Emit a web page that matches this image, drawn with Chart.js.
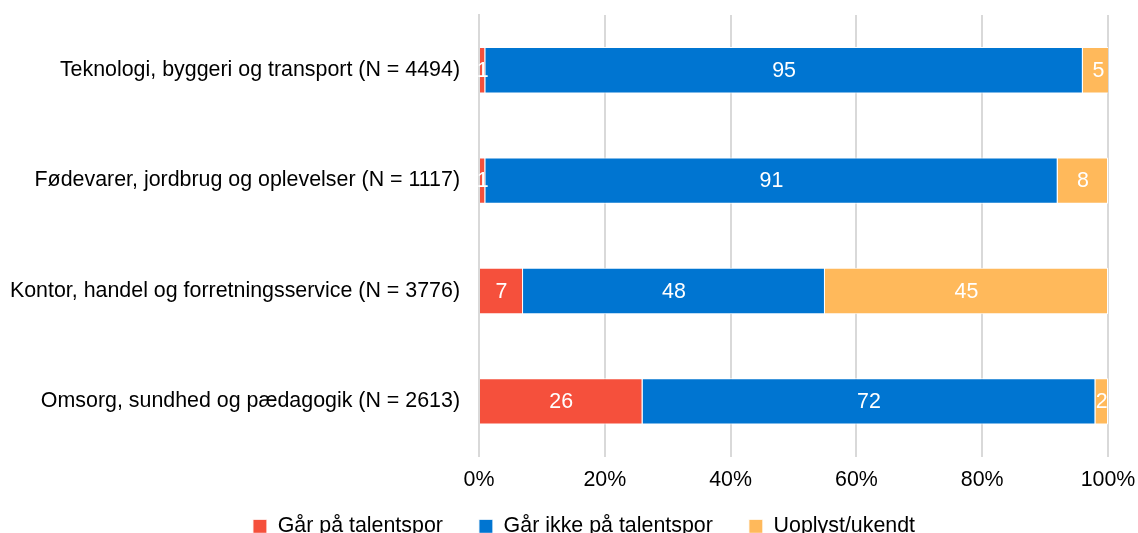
<!DOCTYPE html>
<html lang="da">
<head>
  <meta charset="UTF-8">
  <title>Talentspor</title>
  <script src="https://cdn.jsdelivr.net/npm/chart.js"></script>
  <style>
    html, body { margin: 0; padding: 0; background: #fff; overflow: hidden; }
    #wrap { width: 1138px; height: 533px; }
  </style>
</head>
<body>
  <div id="wrap"><canvas id="chart" width="1138" height="533"></canvas></div>
  <script>
    const categories = [
      'Teknologi, byggeri og transport (N = 4494)',
      'Fødevarer, jordbrug og oplevelser (N = 1117)',
      'Kontor, handel og forretningsservice (N = 3776)',
      'Omsorg, sundhed og pædagogik (N = 2613)'
    ];
    const talentspor = [1, 1, 7, 26];
    const ikkeTalentspor = [95, 91, 48, 72];
    const uoplyst = [5, 8, 45, 2];

    const FONT = '"Liberation Sans", Arial, sans-serif';
    const SIZE = 21.4;

    // draw value in the middle of every bar segment
    const barLabels = {
      id: 'barLabels',
      afterDatasetsDraw(chart) {
        const ctx = chart.ctx;
        ctx.save();
        ctx.font = SIZE + 'px ' + FONT;
        ctx.fillStyle = '#ffffff';
        ctx.textAlign = 'center';
        ctx.textBaseline = 'middle';
        chart.data.datasets.forEach((ds, i) => {
          chart.getDatasetMeta(i).data.forEach((bar, j) => {
            const x = (bar.x + bar.base) / 2;
            ctx.fillText(String(ds.data[j]), x, bar.y + 1);
          });
        });
        ctx.restore();
      }
    };

    // widen the axis boxes after layout so their labels are not clipped
    const unclip = {
      id: 'unclip',
      afterLayout(chart) {
        chart.scales.y.left = 0;
        chart.scales.x.bottom = chart.height;
      }
    };

    new Chart(document.getElementById('chart'), {
      type: 'bar',
      data: {
        labels: categories,
        datasets: [
          { label: 'Går på talentspor', data: talentspor, backgroundColor: '#F5503C' },
          { label: 'Går ikke på talentspor', data: ikkeTalentspor, backgroundColor: '#0075D1' },
          { label: 'Uoplyst/ukendt', data: uoplyst, backgroundColor: '#FFB95B' }
        ]
      },
      options: {
        indexAxis: 'y',
        responsive: false,
        animation: false,
        datasets: {
          bar: {
            barPercentage: 0.42,
            categoryPercentage: 1,
            borderColor: '#ffffff',
            borderWidth: 1
          }
        },
        layout: { padding: { top: 15, right: 30, left: 60, bottom: -14 } },
        scales: {
          x: {
            stacked: true,
            min: 0,
            max: 100,
            ticks: {
              stepSize: 20,
              callback: v => v + '%',
              color: '#000',
              padding: 11,
              font: { family: FONT, size: SIZE }
            },
            grid: { color: '#d9d9d9', lineWidth: 2, drawTicks: false },
            border: { display: false },
            afterFit: s => { s.paddingLeft = 0; s.paddingRight = 0; s.height = 23; }
          },
          y: {
            stacked: true,
            ticks: {
              color: '#000',
              padding: 11,
              font: { family: FONT, size: SIZE }
            },
            grid: { display: false },
            border: { display: true, color: '#d9d9d9', width: 2 },
            afterFit: s => { s.paddingTop = 0; s.paddingBottom = 0; s.width = 419; }
          }
        },
        plugins: {
          legend: {
            position: 'bottom',
            labels: {
              boxWidth: 14,
              boxHeight: 14,
              padding: 36,
              color: '#000',
              font: { family: FONT, size: SIZE }
            }
          },
          tooltip: { enabled: false }
        }
      },
      plugins: [barLabels, unclip]
    });
  </script>
</body>
</html>
